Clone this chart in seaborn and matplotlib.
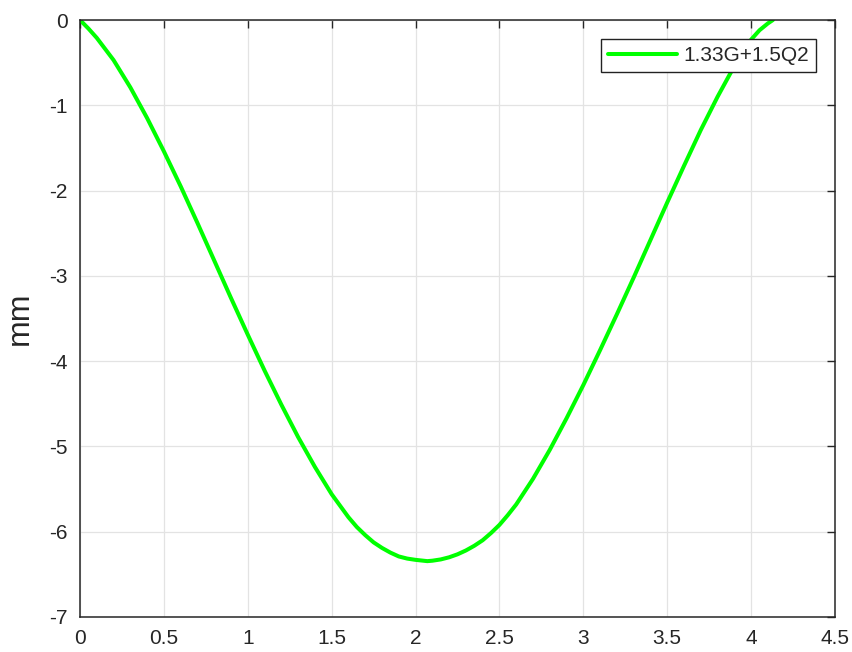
import matplotlib
matplotlib.use("Agg")
import matplotlib.pyplot as plt
import seaborn as sns
import pandas as pd

# Data (x in m, deflection in mm)
x_vals = [0.0, 0.05, 0.1, 0.2, 0.3, 0.4, 0.5, 0.6, 0.7, 0.8, 0.9, 1.0, 1.1,
          1.2, 1.3, 1.4, 1.5, 1.6, 1.65, 1.7, 1.75, 1.8, 1.85, 1.9, 1.95, 2.0,
          2.07, 2.1, 2.15, 2.2, 2.25, 2.3, 2.35, 2.4, 2.45, 2.5, 2.55, 2.6,
          2.7, 2.8, 2.9, 3.0, 3.1, 3.2, 3.3, 3.4, 3.5, 3.6, 3.7, 3.8, 3.9,
          4.0, 4.05, 4.1, 4.13]
y_vals = [0.0, -0.10, -0.21, -0.47, -0.79, -1.15, -1.54, -1.95, -2.38, -2.82,
          -3.26, -3.69, -4.11, -4.51, -4.89, -5.24, -5.56, -5.83, -5.945,
          -6.04, -6.125, -6.19, -6.245, -6.29, -6.315, -6.33, -6.345, -6.34,
          -6.325, -6.30, -6.265, -6.22, -6.165, -6.10, -6.015, -5.92, -5.805,
          -5.68, -5.38, -5.04, -4.67, -4.28, -3.87, -3.45, -3.02, -2.58, -2.14,
          -1.71, -1.29, -0.90, -0.54, -0.23, -0.12, -0.04, 0.0]
series_label = "1.33G+1.5Q2"
x_ticks = [0, 0.5, 1, 1.5, 2, 2.5, 3, 3.5, 4, 4.5]
x_tick_labels = ["0", "0.5", "1", "1.5", "2", "2.5", "3", "3.5", "4", "4.5"]
y_ticks = [-7, -6, -5, -4, -3, -2, -1, 0]
y_tick_labels = ["-7", "-6", "-5", "-4", "-3", "-2", "-1", "0"]
y_label = "mm"

df = pd.DataFrame({"x": x_vals, "y": y_vals})

sns.set_theme(style="white")
plt.rcParams["font.family"] = ["Liberation Sans", "DejaVu Sans"]

dark = "#262626"
fig = plt.figure(figsize=(8.53, 6.52), dpi=100)
fig.patch.set_facecolor("white")

ax = fig.add_axes([80 / 853, 1 - 617 / 652, 755 / 853, 597 / 652])

sns.lineplot(data=df, x="x", y="y", ax=ax, color="#00ff00", linewidth=2.9,
             label=series_label, estimator=None, sort=False)
for ln in ax.get_lines():
    ln.set_solid_joinstyle("round")
    ln.set_solid_capstyle("round")

ax.set_xlim(0, 4.5)
ax.set_ylim(-7, 0)
ax.set_xticks(x_ticks)
ax.set_xticklabels(x_tick_labels)
ax.set_yticks(y_ticks)
ax.set_yticklabels(y_tick_labels)
ax.set_xlabel("")
ax.set_ylabel(y_label, fontsize=23, color=dark, labelpad=10)

ax.grid(True, color="#e3e3e3", linewidth=0.9)
ax.set_axisbelow(True)
ax.tick_params(axis="both", direction="in", length=6, width=1.0, color=dark,
               labelsize=15, labelcolor=dark, top=True, right=True, pad=9)
for sp in ax.spines.values():
    sp.set_visible(True)
    sp.set_color(dark)
    sp.set_linewidth(1.1)

leg = ax.legend(loc="upper right", bbox_to_anchor=(0.975, 0.969), fontsize=15,
                frameon=True, fancybox=False, framealpha=1, edgecolor="#222222",
                handlelength=3.3, handletextpad=0.3, borderpad=0.35,
                borderaxespad=0.0)
leg.get_frame().set_linewidth(1.0)
for t in leg.get_texts():
    t.set_color(dark)

fig.savefig("out.png", dpi=100)
